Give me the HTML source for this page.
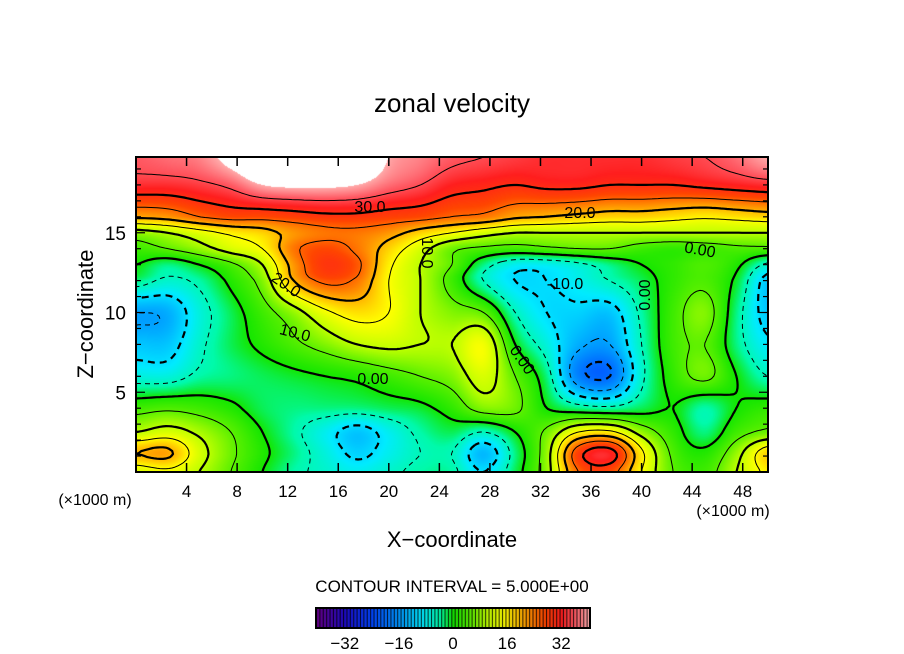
<!DOCTYPE html>
<html><head><meta charset="utf-8">
<style>
html,body{margin:0;padding:0;background:#fff;}
body{width:904px;height:654px;position:relative;overflow:hidden;font-family:"Liberation Sans",sans-serif;}
canvas{position:absolute;}
svg{position:absolute;left:0;top:0;}
</style></head>
<body>
<canvas id="field" width="632" height="315" style="left:136px;top:157px"></canvas>
<canvas id="cbar" width="274" height="20" style="left:316px;top:608px"></canvas>
<svg id="ov" width="904" height="654"></svg>
<script>
// ---- data ----
const xCoords = [0,2.5,5,7.5,10,12.5,15,17.5,20,22.5,25,27.5,30,32.5,35,37.5,40,42.5,45,47.5,50];
const zCoords = [0,1.2,2.5,4,6,8,10,12,13,14,15,16,18,19.75];
const uZ0   = [12,14,10,5,0,-4,-6,-8,-6,-4,-4,-10,-2,8,25,27,15,5,3,10,16];
const uZ1   = [20,21,12,6,1,-3,-7,-11,-8,-5,-5,-13,-3,8,28,32,16,4,1,8,18];
const uZ2   = [10,12,9,5,0,-4,-8,-12,-8,-4,-2,-5,0,6,15,16,8,2,-3,3,6];
const uZ4   = [3,4,3,1,-2,-3,-3,-3,-2,-1,2,7,6,0,-3,-4,-2,0,-4,0,2];
const uZ6   = [-7,-7,-4,-3,-2,-1,0,1,3,5,7,12,5,-3,-18,-20,-6,2,6,0,-5];
const uZ8   = [-12,-12,-6,-2,1,4,7,10,11,10,10,14,0,-7,-14,-15,-5,3,5,-3,-9];
const uZ10  = [-15,-14,-7,-2,3,8,14,17,15,10,7,5,-5,-10,-11,-12,-4,3,7,-3,-12];
const uZ12  = [-3,-6,-4,1,7,20,26,24,15,10,3,-5,-10,-10,-8,-5,-2,2,4,-1,-12];
const uZ13  = [0,-3,0,4,10,22,29,26,16,10,5,-3,-8,-8,-6,-3,0,2,4,1,-6];
const uZ14  = [3,5,8,12,15,24,27,24,18,12,6,4,3,4,5,5,3,2,3,4,4];
const uZ15  = [8,10,13,16,18,22,24,24,22,18,15,12,10,10,10,10,10,10,10,10,10];
const uZ16  = [21,22,25,27,27,28,29,29,28,27,25,24,21,20,19,18,18,17,16,17,18];
const uZ18  = [33,33,34,36,40,41,41,40,37,35,32,31,30,31,31,30,30,30,31,32,33];
const uZ20  = [36,37,38,42,47,48,48,47,40,38,36,35,34,33,33,33,33,34,35,37,40];
const uRows = [uZ0,uZ1,uZ2,uZ4,uZ6,uZ8,uZ10,uZ12,uZ13,uZ14,uZ15,uZ16,uZ18,uZ20];
const cbarTicks = [-32,-16,0,16,32];
const xTicks = [4,8,12,16,20,24,28,32,36,40,44,48];
const zTicks = [5,10,15];
const levels = [-20,-15,-10,-5,0,5,10,15,20,25,30,35];

// ---- axes ----
const PX0=136, PX1=768, PY0=157, PY1=472, XMIN=0, XMAX=50, ZMIN=0, ZMAX=19.75;
const sx = x => PX0 + (x-XMIN)/(XMAX-XMIN)*(PX1-PX0);
const sz = z => PY1 - (z-ZMIN)/(ZMAX-ZMIN)*(PY1-PY0);
function fidx(arr,v){let i=0;while(i<arr.length-2&&v>arr[i+1])i++;
  return i+Math.max(0,Math.min(1,(v-arr[i])/(arr[i+1]-arr[i])));}
function cr(p0,p1,p2,p3,t){return 0.5*((2*p1)+(-p0+p2)*t+(2*p0-5*p1+4*p2-p3)*t*t+(-p0+3*p1-3*p2+p3)*t*t*t);}
function at(j,i){j=Math.max(0,Math.min(uRows.length-1,j));i=Math.max(0,Math.min(xCoords.length-1,i));return uRows[j][i];}
function field(x,z){
  const fx=fidx(xCoords,x), fz=fidx(zCoords,z);
  let i=Math.min(Math.floor(fx),xCoords.length-2), j=Math.min(Math.floor(fz),zCoords.length-2);
  const tx=fx-i, tz=fz-j;
  const r=[];
  for(let k=-1;k<=2;k++) r.push(cr(at(j+k,i-1),at(j+k,i),at(j+k,i+1),at(j+k,i+2),tx));
  return cr(r[0],r[1],r[2],r[3],tz);
}
const stops=[[-40,[100,0,140]],[-32,[30,10,200]],[-24,[0,70,255]],[-16,[0,150,255]],[-9,[0,235,255]],[-4,[0,250,170]],[0,[20,230,0]],[5,[90,240,0]],[10,[190,255,0]],[15,[255,255,0]],[21,[255,165,0]],[27,[255,70,0]],[32,[255,30,30]],[36,[255,90,100]],[40,[255,170,170]]];
function color(v){
  if(v>40) return [255,255,255];
  if(v<=stops[0][0]) return stops[0][1];
  for(let k=0;k<stops.length-1;k++){
    const [a,ca]=stops[k],[b,cb]=stops[k+1];
    if(v<=b){const t=(v-a)/(b-a);return ca.map((c,n)=>Math.round(c+(cb[n]-c)*t));}
  }
  return stops[stops.length-1][1];
}
// heatmap
const cv=document.getElementById('field'),ctx=cv.getContext('2d');
const W=cv.width,H=cv.height,img=ctx.createImageData(W,H);
for(let py=0;py<H;py++)for(let px=0;px<W;px++){
  const x=XMIN+(px+0.5)/W*(XMAX-XMIN), z=ZMAX-(py+0.5)/H*(ZMAX-ZMIN);
  const c=color(field(x,z)),o=(py*W+px)*4;
  img.data[o]=c[0];img.data[o+1]=c[1];img.data[o+2]=c[2];img.data[o+3]=255;
}
ctx.putImageData(img,0,0);
// colorbar
const cb=document.getElementById('cbar'),cc=cb.getContext('2d');
for(let v=-40;v<41;v++){
  const c=color(v===40?39.9:v);
  cc.fillStyle=`rgb(${c})`;
  const x0=(v+40)/81*274;
  cc.fillRect(x0,0,274/81+0.5,20);
  cc.fillStyle='#000';cc.fillRect(x0,0,1,20);
}
const NS='http://www.w3.org/2000/svg';
const ov=document.getElementById('ov');
function mk(tag,attrs,parent){const e=document.createElementNS(NS,tag);for(const k in attrs)e.setAttribute(k,attrs[k]);(parent||ov).appendChild(e);return e;}
// contours via marching squares, chained into polylines
const STEP=3,NX=Math.ceil(632/STEP),NZ=Math.ceil(315/STEP);
const g=[];
for(let j=0;j<=NZ;j++){g[j]=[];for(let i=0;i<=NX;i++){
  const px=Math.min(PX0+i*STEP,PX1),py=Math.min(PY0+j*STEP,PY1);
  g[j][i]=field((px-PX0)/(PX1-PX0)*50,ZMAX-(py-PY0)/(PY1-PY0)*ZMAX);}}
const key=p=>p[0].toFixed(1)+','+p[1].toFixed(1);
levels.forEach(L=>{
  const segs=[];
  const P=(i,j)=>[Math.min(PX0+i*STEP,PX1),Math.min(PY0+j*STEP,PY1)];
  for(let j=0;j<NZ;j++)for(let i=0;i<NX;i++){
    const v=[g[j][i],g[j][i+1],g[j+1][i+1],g[j+1][i]];
    const p=[P(i,j),P(i+1,j),P(i+1,j+1),P(i,j+1)];
    const pts=[];
    for(let e=0;e<4;e++){let a=v[e],b=v[(e+1)%4],A=p[e],B=p[(e+1)%4];
      if(e>=2){[a,b]=[b,a];[A,B]=[B,A];}
      if((a<L)!==(b<L)){const t=(L-a)/(b-a);pts.push([A[0]+(B[0]-A[0])*t,A[1]+(B[1]-A[1])*t]);}}
    for(let k=0;k+1<pts.length;k+=2)segs.push([pts[k],pts[k+1]]);
  }
  const map=new Map();
  segs.forEach((s,n)=>{[0,1].forEach(e=>{const k=key(s[e]);if(!map.has(k))map.set(k,[]);map.get(k).push(n);});});
  const used=new Array(segs.length).fill(false);
  let d='';
  function extend(line){
    while(true){const end=line[line.length-1];const c=(map.get(key(end))||[]).find(n=>!used[n]);
      if(c===undefined)break;used[c]=true;const s=segs[c];
      line.push(key(s[0])===key(end)?s[1]:s[0]);}
  }
  segs.forEach((s,n)=>{
    if(used[n])return;used[n]=true;
    const fwd=[s[0],s[1]];extend(fwd);
    const back=[s[0]];extend(back);
    const line=back.reverse().concat(fwd.slice(1));
    d+='M'+line.map(p=>p[0].toFixed(1)+' '+p[1].toFixed(1)).join('L');
  });
  const major=L%10===0;
  const path=mk('path',{d:d,fill:'none',stroke:'#000','stroke-width':major?2.2:1,'stroke-linejoin':'round','stroke-dasharray':L<0?(major?'7,5':'5,4'):'none'});
  
  
});
// contour labels
[['30.0',370,212,0],['20.0',580,218,0],['20.0',286,290,35],['10.0',295,338,15],['0.00',373,384,0],['0.00',700,255,10],['-10.0',565,289,0],['10.0',427,258,90],['0.00',645,300,-90],['0.00',522,365,55]].forEach(([t,x,y,r])=>{
  const e=mk('text',{x:x,y:y,'font-size':16,'text-anchor':'middle',fill:'#000',transform:`rotate(${r} ${x} ${y-5})`});
  e.textContent=t;
  
  
});
// frame
const fr=mk('rect',{x:PX0,y:PY0,width:PX1-PX0,height:PY1-PY0,fill:'none',stroke:'#000','stroke-width':2});

// x ticks
xTicks.forEach(v=>{
  const x=sx(v);
  mk('line',{x1:x,x2:x,y1:PY1,y2:PY1-9,stroke:'#000','stroke-width':1.5});
  mk('line',{x1:x,x2:x,y1:PY0,y2:PY0+9,stroke:'#000','stroke-width':1.5});
  const t=mk('text',{x:x,y:PY1+25,'font-size':17,'text-anchor':'middle'});t.textContent=v;
  
});
for(let v=1;v<20;v++){const y=sz(v),L=v%5===0?9:5;
  mk('line',{x1:PX0,x2:PX0+L,y1:y,y2:y,stroke:'#000','stroke-width':1.2});
  mk('line',{x1:PX1,x2:PX1-L,y1:y,y2:y,stroke:'#000','stroke-width':1.2});}
zTicks.forEach(v=>{const t=mk('text',{x:PX0-10,y:sz(v)+7,'font-size':19,'text-anchor':'end'});t.textContent=v;
  });
// colorbar frame and labels
const cf=mk('rect',{x:316,y:608,width:274,height:20,fill:'none',stroke:'#000','stroke-width':2});

cbarTicks.forEach(v=>{const t=mk('text',{x:316+(v+40.5)/81*274,y:649,'font-size':17,'text-anchor':'middle'});t.textContent=v===0?'0':(v<0?'\u2212'+(-v):v);
  });
// texts
function txt(s,attrs,name){const t=mk('text',attrs);t.textContent=s;}
txt('zonal velocity',{x:452,y:112,'font-size':26,'text-anchor':'middle'},'chart-title');
txt('X\u2212coordinate',{x:452,y:547,'font-size':22,'text-anchor':'middle'},'x-axis-title');
txt('Z\u2212coordinate',{x:0,y:0,'font-size':22,'text-anchor':'middle',transform:'translate(93,314) rotate(-90)'},'z-axis-title');
txt('(\u00d71000 m)',{x:95,y:505,'font-size':16,'text-anchor':'middle'},'x-unit-left');
txt('(\u00d71000 m)',{x:733,y:516,'font-size':16,'text-anchor':'middle'},'x-unit-right');
txt('CONTOUR INTERVAL = 5.000E+00',{x:452,y:592,'font-size':17,'text-anchor':'middle'},'contour-interval-note');
</script>
</body></html>
